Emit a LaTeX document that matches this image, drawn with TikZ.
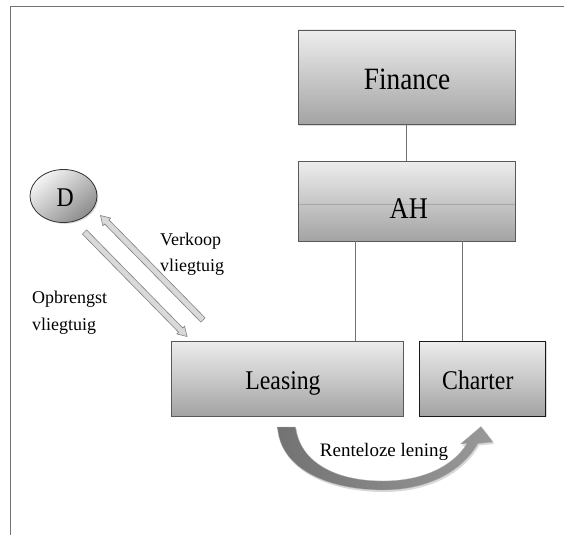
\documentclass[tikz,border=0pt]{standalone}
\usepackage{fontspec}
\setmainfont{Liberation Serif}
\newfontfamily\bigfont[FakeStretch=0.88]{Liberation Serif}
\usetikzlibrary{calc,shadows,shapes.geometric}

\newcommand\hollowarrow[2]{%
  \coordinate (#2b) at ($(#2)!9pt!(#1)$);
  \filldraw[hollow] ($(#1)!3pt!90:(#2)$) -- ($(#2b)!3pt!90:(#2)$) -- ($(#2b)!5.5pt!90:(#2)$) -- (#2)
    -- ($(#2b)!5.5pt!-90:(#2)$) -- ($(#2b)!3pt!-90:(#2)$) -- ($(#1)!3pt!-90:(#2)$) -- cycle;}

\begin{document}
\begin{tikzpicture}[x=1pt,y=-1pt,
  box/.style={draw=black!65, line width=0.8pt, top color=black!7, bottom color=black!36,
    inner sep=0pt, drop shadow={shadow xshift=1.3pt, shadow yshift=-1.3pt, opacity=0.3}},
  darkbox/.style={box, draw=black!90},
  biglabel/.style={inner sep=0pt, text depth=0pt, font=\bigfont\fontsize{#1}{#1}\selectfont},
  smalltext/.style={inner sep=0pt, font=\fontsize{18}{26.7}\selectfont},
  link/.style={draw=black!55, line width=0.6pt},
  hollow/.style={draw=black!50, line width=0.6pt, fill=black!15, line join=miter},
  frame/.style={draw=black!55, line width=1.5pt}
]
\useasboundingbox (0,0) rectangle (564,535);
\draw[frame] (10.5,535) -- (10.5,6.5) -- (564,6.5);

% boxes
\node[box, minimum width=217pt, minimum height=94.6pt,
  label={[biglabel=31, xshift=0.5pt, yshift=-2.4pt]center:Finance}] (finance) at (406.6,77.3) {};
\node[box, minimum width=217pt, minimum height=80pt,
  path picture={\draw[black!35, line width=0.5pt] ([yshift=-3pt]path picture bounding box.west) -- ([yshift=-3pt]path picture bounding box.east);},
  label={[biglabel=30, xshift=2.2pt, yshift=-8pt]center:AH}] (ah) at (406.6,201) {};
\node[box, minimum width=232pt, minimum height=75pt,
  label={[biglabel=27, xshift=-4pt, yshift=-2pt]center:Leasing}] (leasing) at (287,378.5) {};
\node[darkbox, minimum width=126pt, minimum height=75pt,
  label={[biglabel=27, xshift=-4.5pt, yshift=-2pt]center:Charter}] (charter) at (482.3,378.5) {};
\node[ellipse, draw=black!80, line width=0.8pt, minimum width=67pt, minimum height=53pt,
  shading=axis, top color=black!4, bottom color=black!45, shading angle=40,
  drop shadow={shadow xshift=1.3pt, shadow yshift=-1.3pt, opacity=0.3},
  label={[biglabel=27, xshift=1.6pt, yshift=-2pt]center:D}] (D) at (63.5,196) {};

% connectors
\draw[link] (finance.south) -- (ah.north);
\coordinate (la) at ([xshift=-51.6pt]ah.south);
\coordinate (ca) at ([xshift=55.4pt]ah.south);
\draw[link] (la) -- (la |- leasing.north);
\draw[link] (ca) -- (ca |- charter.north);

% hollow arrows
\coordinate (vt) at (203,320);
\coordinate (vh) at (100.5,215.5);
\coordinate (ot) at (84.5,232);
\coordinate (oh) at (187,336.5);
\hollowarrow{vt}{vh}
\hollowarrow{ot}{oh}

\node[smalltext, anchor=west, align=left] (verkoop) at (160,254.2) {Verkoop\\vliegtuig};
\node[smalltext, anchor=west, align=left] (opbrengst) at (32,312.5) {Opbrengst\\vliegtuig};

% curved arrow
\path[preaction={fill=black!15, transform canvas={shift={(1.2pt,-2pt)}}},
  left color=black!55, middle color=black!10, right color=black!40,
  draw=black!30, line width=0.3pt]
  (277.5,427) .. controls (280,470) and (330,490) .. (383,490)
  .. controls (430,490) and (463,470) .. (478,443.5)
  -- (493,442) -- (481,426.5) -- (460.5,444) -- (467,443.5)
  .. controls (452,468) and (420,481) .. (383,481)
  .. controls (335,481) and (300,462) .. (295.5,427) -- cycle;
\node[inner sep=0pt, anchor=base, font=\fontsize{19}{19}\selectfont] (rl) at (384,456.7) {Renteloze lening};
\end{tikzpicture}
\end{document}
